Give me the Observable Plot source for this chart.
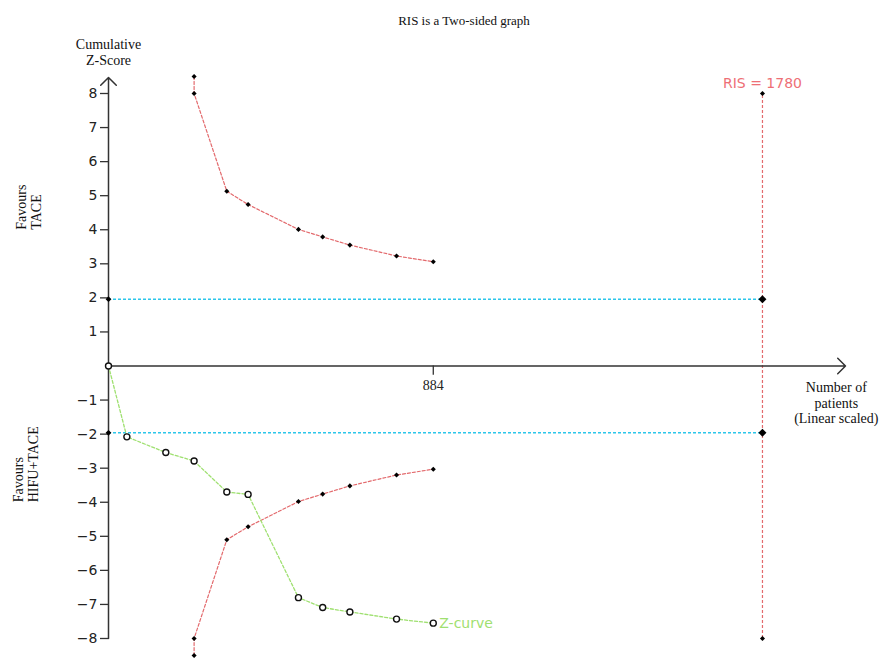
<!DOCTYPE html>
<html>
<head>
<meta charset="utf-8">
<script src="https://cdn.jsdelivr.net/npm/d3@7"></script>
<script src="https://cdn.jsdelivr.net/npm/@observablehq/plot@0.6"></script>
<style>
  html, body { margin: 0; padding: 0; background: #fff; }
  #chart svg { display: block; overflow: visible; }
</style>
</head>
<body>
<div id="chart"></div>
<script>
// ---- data ----
const zPatients = [0, 50, 156, 233, 322, 380, 517, 583, 657, 784, 884];
const zCurve = [0, -2.08, -2.54, -2.79, -3.70, -3.77, -6.80, -7.09, -7.22, -7.43, -7.55];
const boundaryPatients = [233, 233, 322, 380, 517, 583, 657, 784, 884];
const upperBoundary = [8.5, 8, 5.13, 4.74, 4.01, 3.79, 3.55, 3.23, 3.06];
const lowerBoundary = [-8.5, -8, -5.10, -4.72, -3.98, -3.76, -3.52, -3.20, -3.03];
const risValue = 1780;
const conventionalZ = [1.96, -1.96];
const risEnds = [8, -8];
const yTicks = [8, 7, 6, 5, 4, 3, 2, 1, -1, -2, -3, -4, -5, -6, -7, -8];
const xTicks = [884];
const xAxisEnd = 2006;
const yAxisTop = 8.47;
const yAxisBottom = -8;

const titleText = "RIS is a Two-sided graph";
const yAxisLabel = "Cumulative\nZ-Score";
const xAxisLabel = "Number of\npatients\n(Linear scaled)";
const favoursTop = "Favours\nTACE";
const favoursBottom = "Favours\nHIFU+TACE";
const risLabel = "RIS = " + risValue;
const zLabel = "Z-curve";

// ---- derived tables ----
const zData = zPatients.map((p, i) => ({patients: p, z: zCurve[i]}));
const upperData = boundaryPatients.map((p, i) => ({patients: p, z: upperBoundary[i]}));
const lowerData = boundaryPatients.map((p, i) => ({patients: p, z: lowerBoundary[i]}));
const lastZ = zData[zData.length - 1];

const RED = "#e36a6d";
const CYAN = "#2cc6ea";
const GREEN = "#9fe070";
const AXIS = "#333";
const SERIF = "'Liberation Serif', 'Times New Roman', serif";
const SANS = "'DejaVu Sans', sans-serif";

const chart = Plot.plot({
  width: 880,
  height: 659,
  marginLeft: 108,
  marginRight: 35,
  marginTop: 93,
  marginBottom: 21,
  x: {domain: [0, xAxisEnd], axis: null},
  y: {domain: [-8, 8]},
  style: {background: "#fff"},
  marks: [
    // conventional boundaries
    Plot.ruleY(conventionalZ, {x1: 0, x2: risValue, stroke: CYAN, strokeWidth: 1.3, strokeDasharray: "3,2"}),
    // RIS line
    Plot.ruleX([risValue], {y1: risEnds[1], y2: risEnds[0], stroke: RED, strokeWidth: 1.2, strokeDasharray: "3,2"}),
    // axes
    Plot.arrow([0], {x1: 0, x2: xAxisEnd, y1: 0, y2: 0, stroke: AXIS, strokeWidth: 1.5, headLength: 11, headAngle: 90}),
    Plot.arrow([0], {x1: 0, x2: 0, y1: yAxisBottom, y2: yAxisTop, stroke: AXIS, strokeWidth: 1.5, headLength: 11, headAngle: 90}),
    Plot.axisY({ticks: yTicks, label: null, tickSize: 8, tickPadding: 3, fontSize: 14, fontFamily: SANS, stroke: AXIS, color: "#222", strokeWidth: 1.3}),
    Plot.ruleX(xTicks, {y1: 0, y2: -0.27, stroke: AXIS, strokeWidth: 1.3}),
    Plot.text(xTicks, {x: d => d, y: 0, dy: 20, text: d => String(d), fontSize: 14, fontFamily: SERIF, fill: "#222"}),
    // boundaries
    Plot.line(upperData, {x: "patients", y: "z", stroke: RED, strokeWidth: 1.2, strokeDasharray: "3,2"}),
    Plot.line(lowerData, {x: "patients", y: "z", stroke: RED, strokeWidth: 1.2, strokeDasharray: "3,2"}),
    Plot.dot(upperData, {x: "patients", y: "z", symbol: "diamond2", r: 2.3, fill: "#000"}),
    Plot.dot(lowerData, {x: "patients", y: "z", symbol: "diamond2", r: 2.3, fill: "#000"}),
    // Z-curve
    Plot.line(zData, {x: "patients", y: "z", stroke: GREEN, strokeWidth: 1.3, strokeDasharray: "3,2"}),
    Plot.dot(zData, {x: "patients", y: "z", r: 3, stroke: "#111", strokeWidth: 1.4, fill: "#fff"}),
    // end markers
    Plot.dot(conventionalZ, {x: 0, y: d => d, symbol: "diamond2", r: 2.6, fill: "#000"}),
    Plot.dot(conventionalZ, {x: risValue, y: d => d, symbol: "diamond2", r: 3.6, fill: "#000"}),
    Plot.dot(risEnds, {x: risValue, y: d => d, symbol: "diamond2", r: 2.3, fill: "#000"}),
    // labels
    Plot.text([risLabel], {x: risValue, y: risEnds[0], dy: -10, text: d => d, fill: "#ee6f76", fontSize: 14, fontFamily: SANS}),
    Plot.text([zLabel], {x: lastZ.patients, y: lastZ.z, dx: 6, textAnchor: "start", text: d => d, fill: GREEN, fontSize: 14, fontFamily: SANS}),
    Plot.text([titleText], {frameAnchor: "top", dx: -13, dy: -78, text: d => d, fontSize: 13, fontFamily: SERIF, fill: "#111"}),
    Plot.text([yAxisLabel], {x: 0, y: yAxisTop, dy: -26, text: d => d, fontSize: 14, fontFamily: SERIF, fill: "#111", lineHeight: 1.15}),
    Plot.text([xAxisLabel], {x: 1981, y: -1.08, text: d => d, fontSize: 14, fontFamily: SERIF, fill: "#111", lineHeight: 1.12}),
    Plot.text([favoursTop], {frameAnchor: "left", y: 4.0, dx: -80, rotate: -90, text: d => d, fontSize: 14, fontFamily: SERIF, fill: "#111", lineHeight: 1.1}),
    Plot.text([favoursBottom], {frameAnchor: "left", y: -4.0, dx: -83, rotate: -90, text: d => d, fontSize: 14, fontFamily: SERIF, fill: "#111", lineHeight: 1.1})
  ]
});
document.getElementById("chart").appendChild(chart);
</script>
</body>
</html>
